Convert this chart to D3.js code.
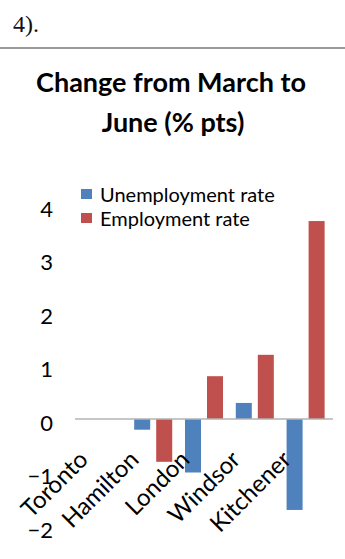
<!DOCTYPE html>
<html>
<head>
<meta charset="utf-8">
<script src="https://cdn.jsdelivr.net/npm/d3@7"></script>
<style>
  html, body { margin: 0; padding: 0; background: #fff; }
  svg { display: block; }
</style>
</head>
<body>
<svg id="chart"></svg>
<script>
const categories = ['Toronto', 'Hamilton', 'London', 'Windsor', 'Kitchener'];
const seriesNames = ['Unemployment rate', 'Employment rate'];
const unemploymentValues = [0, -0.2, -1.0, 0.3, -1.7];
const employmentValues = [0, -0.8, 0.8, 1.2, 3.7];
const yTicks = [-2, -1, 0, 1, 2, 3, 4];
const seriesColors = ['#4f81bd', '#c0504d'];

const width = 345;
const height = 559;
const font = 'Lato, "Open Sans", sans-serif';

const data = categories.map((name, i) => ({
  name,
  values: [unemploymentValues[i], employmentValues[i]]
}));

const svg = d3.select('#chart')
  .attr('width', width)
  .attr('height', height);

// page fragment above the chart
svg.append('text')
  .attr('x', 13)
  .attr('y', 32)
  .attr('font-family', '"Liberation Serif", "DejaVu Serif", serif')
  .attr('font-size', 24)
  .attr('fill', '#111')
  .text('4).');

svg.append('line')
  .attr('x1', 0)
  .attr('x2', width)
  .attr('y1', 48)
  .attr('y2', 48)
  .attr('stroke', '#9a9a9a')
  .attr('stroke-width', 2);

// title
const title = svg.append('text')
  .attr('text-anchor', 'middle')
  .attr('font-family', font)
  .attr('font-weight', 'bold')
  .attr('font-size', 27)
  .attr('fill', '#000');
title.append('tspan').attr('x', 171).attr('y', 92).text('Change from March to');
title.append('tspan').attr('x', 173).attr('y', 132).text('June (% pts)');

const y = d3.scaleLinear()
  .domain([-2, 4])
  .range([526, 205]);

const x0 = d3.scaleBand()
  .domain(categories)
  .range([77, 331]);

const x1 = d3.scaleBand()
  .domain(seriesNames)
  .range([0, x0.bandwidth()])
  .paddingInner(0.273)
  .paddingOuter(0.29);

// y axis: labels only
svg.append('g')
  .attr('transform', 'translate(56,0)')
  .call(d3.axisLeft(y).tickValues(yTicks).tickSize(0).tickPadding(3).tickFormat(d3.format('d')))
  .call(g => g.select('.domain').remove())
  .call(g => g.selectAll('.tick text')
    .attr('font-family', font)
    .attr('font-size', 22)
    .attr('fill', '#000')
    .attr('dy', '0.5em'));

// bars
svg.append('g')
  .selectAll('g')
  .data(data)
  .join('g')
  .attr('transform', d => `translate(${x0(d.name)},0)`)
  .selectAll('rect')
  .data(d => d.values.map((v, i) => ({ key: seriesNames[i], value: v, color: seriesColors[i] })))
  .join('rect')
  .attr('x', d => x1(d.key))
  .attr('width', x1.bandwidth())
  .attr('y', d => y(Math.max(0, d.value)))
  .attr('height', d => Math.abs(y(d.value) - y(0)))
  .attr('fill', d => d.color);

// zero line
svg.append('line')
  .attr('x1', 75)
  .attr('x2', 333)
  .attr('y1', y(0))
  .attr('y2', y(0))
  .attr('stroke', '#b3b3b3')
  .attr('stroke-width', 1.5);

// category labels, rotated
svg.append('g')
  .selectAll('text')
  .data(categories)
  .join('text')
  .attr('transform', d => `translate(${x0(d) + x0.bandwidth() / 2 - 13},461) rotate(-45)`)
  .attr('text-anchor', 'end')
  .attr('font-family', font)
  .attr('font-size', 24)
  .attr('fill', '#000')
  .text(d => d);

// legend
const legend = svg.append('g')
  .selectAll('g')
  .data(seriesNames)
  .join('g')
  .attr('transform', (d, i) => `translate(81,${189 + i * 24})`);

legend.append('rect')
  .attr('width', 11)
  .attr('height', 10)
  .attr('fill', (d, i) => seriesColors[i]);

legend.append('text')
  .attr('x', 19)
  .attr('y', 13)
  .attr('font-family', font)
  .attr('font-size', 20)
  .attr('fill', '#000')
  .text(d => d);
</script>
</body>
</html>
